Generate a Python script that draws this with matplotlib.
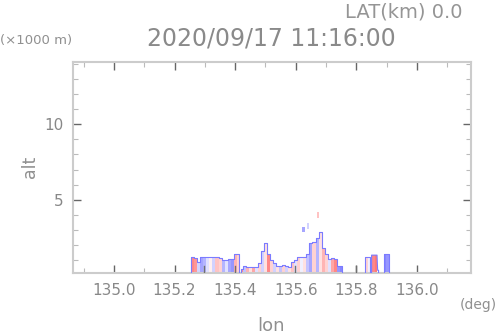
import numpy as np
import matplotlib
matplotlib.use("Agg")
import matplotlib.pyplot as plt
from matplotlib.colors import LinearSegmentedColormap, Normalize
from matplotlib.ticker import MultipleLocator, FixedLocator

# ---- data (column-wise cross section) ----
col_left = [135.255, 135.265, 135.275, 135.285, 135.295, 135.305, 135.315, 135.325,
            135.335, 135.345, 135.355, 135.365, 135.375, 135.385, 135.395, 135.405,
            135.419, 135.426, 135.435, 135.445, 135.455, 135.465, 135.475, 135.485,
            135.495, 135.505, 135.515, 135.525, 135.535, 135.545, 135.555, 135.565,
            135.575, 135.585, 135.595, 135.605, 135.615, 135.625, 135.635, 135.645,
            135.655, 135.665, 135.675, 135.685, 135.695, 135.705, 135.715, 135.725,
            135.735, 135.745,
            135.828, 135.838, 135.850, 135.860, 135.870,
            135.890, 135.899]
col_width = [0.010, 0.010, 0.010, 0.010, 0.010, 0.010, 0.010, 0.010,
             0.010, 0.010, 0.010, 0.010, 0.010, 0.010, 0.010, 0.007,
             0.007, 0.009, 0.010, 0.010, 0.010, 0.010, 0.010, 0.010,
             0.010, 0.010, 0.010, 0.010, 0.010, 0.010, 0.010, 0.010,
             0.010, 0.010, 0.010, 0.010, 0.010, 0.010, 0.010, 0.010,
             0.010, 0.010, 0.010, 0.010, 0.010, 0.010, 0.010, 0.010,
             0.010, 0.008,
             0.010, 0.006, 0.010, 0.008, 0.003,
             0.009, 0.009]
col_top = [1.20, 1.15, 0.90, 1.20, 1.20, 1.25, 1.25, 1.20,
           1.20, 1.15, 1.05, 1.05, 1.10, 1.10, 1.45, 1.45,
           0.45, 0.60, 0.55, 0.55, 0.55, 0.55, 0.80, 1.60,
           2.15, 1.40, 1.00, 0.85, 0.60, 0.60, 0.70, 0.65,
           0.55, 0.90, 1.00, 1.20, 1.20, 1.20, 1.45, 2.15,
           2.20, 2.50, 2.90, 1.85, 1.45, 1.10, 1.15, 1.10,
           0.60, 0.60,
           1.25, 1.25, 1.35, 1.35, 0.35,
           1.45, 1.45]
col_val = [0.8, 0.7, -0.3, -0.6, -0.5, -0.2, 0.1, -0.3,
           0.4, 0.3, -0.5, -0.2, -0.6, -0.7, 0.5, 0.3,
           0.8, -0.4, 0.5, 0.2, 0.6, -0.2, 0.3, -0.3,
           0.2, 0.8, 0.3, -0.3, 0.2, -0.4, 0.3, -0.3,
           0.2, 0.4, -0.2, 0.3, -0.1, 0.2, -0.4, -0.6,
           0.3, -0.5, 0.2, 0.5, 0.3, -0.2, 0.6, 0.8,
           -0.7, -0.8,
           0.3, -0.1, 0.8, 0.9, -0.6,
           -0.8, -0.7]

# isolated echoes aloft
blob_left = [135.620, 135.637, 135.670]
blob_width = [0.009, 0.007, 0.007]
blob_bottom = [2.90, 3.10, 3.80]
blob_top = [3.20, 3.50, 4.20]
blob_val = [-0.6, -0.3, 0.4]

# ground markers
ground_lon = [135.297, 135.399, 135.597, 135.799]
ground_top = [0.65, 0.65, 0.60, 0.65]

xlim = (134.865, 136.178)
ylim = (0.17, 14.1)
xticks_major = [135.0, 135.2, 135.4, 135.6, 135.8, 136.0]
xtick_labels = ["135.0", "135.2", "135.4", "135.6", "135.8", "136.0"]
yticks_major = [5, 10]
ytick_labels = ["5", "10"]

cmap = LinearSegmentedColormap.from_list("vr", ["#6a6aff", "#ffffff", "#ff6a6a"])
norm = Normalize(-1, 1)

fig = plt.figure(figsize=(4.98, 3.36), dpi=100)
ax = fig.add_axes([0.1466, 0.1875, 0.7992, 0.628])
ax.set_xlim(*xlim)
ax.set_ylim(*ylim)

base = ylim[0]
ax.bar(col_left, np.array(col_top) - base, width=col_width, bottom=base, align="edge",
       color=[cmap(norm(v)) for v in col_val], linewidth=0, zorder=2)
ax.bar(blob_left, np.array(blob_top) - np.array(blob_bottom), width=blob_width,
       bottom=blob_bottom, align="edge",
       color=[cmap(norm(v)) for v in blob_val], linewidth=0, zorder=2)

# outline of contiguous echo groups
edges_l = np.array(col_left)
edges_r = edges_l + np.array(col_width)
tops = np.array(col_top)
groups = []
start = 0
for i in range(1, len(edges_l)):
    if edges_l[i] - edges_r[i - 1] > 0.002:
        groups.append((start, i))
        start = i
groups.append((start, len(edges_l)))
for s, e in groups:
    xs = [edges_l[s]]
    ys = [base]
    for i in range(s, e):
        xs += [edges_l[i], edges_r[i]]
        ys += [tops[i], tops[i]]
    xs.append(edges_r[e - 1])
    ys.append(base)
    ax.plot(xs, ys, color="#7b7bff", lw=0.8, zorder=3)

for gx, gt in zip(ground_lon, ground_top):
    ax.plot([gx, gx], [base, gt], color="#707070", lw=1.0, zorder=4)

# styling
for sp in ax.spines.values():
    sp.set_color("#cccccc")
    sp.set_linewidth(1.5)
ax.xaxis.set_major_locator(FixedLocator(xticks_major))
ax.set_xticklabels(xtick_labels)
ax.xaxis.set_minor_locator(MultipleLocator(0.1))
ax.yaxis.set_major_locator(FixedLocator(yticks_major))
ax.set_yticklabels(ytick_labels)
ax.yaxis.set_minor_locator(MultipleLocator(1))
ax.tick_params(which="both", direction="in", top=True, right=True, colors="#888888",
               labelcolor="#888888", labelsize=11)
ax.tick_params(which="major", length=6, width=1.0, color="#666666", pad=7)
ax.tick_params(which="minor", length=3.5, width=0.8, color="#bbbbbb")

fig.text(0.545, 0.884, "2020/09/17 11:16:00", ha="center", va="center", fontsize=17,
         color="#8a8a8a")
fig.text(0.693, 0.965, "LAT(km) 0.0", ha="left", va="center", fontsize=14,
         color="#959595")
fig.text(0.0, 0.88, "(\u00d71000 m)", ha="left", va="center", fontsize=9.5, color="#909090")
fig.text(0.06, 0.503, "alt", ha="center", va="center", rotation=90, fontsize=12.5,
         color="#909090")
fig.text(0.998, 0.092, "(deg)", ha="right", va="center", fontsize=10, color="#909090")
fig.text(0.545, 0.004, "lon", ha="center", va="bottom", fontsize=13, color="#909090")

fig.savefig("out.png", dpi=100)
